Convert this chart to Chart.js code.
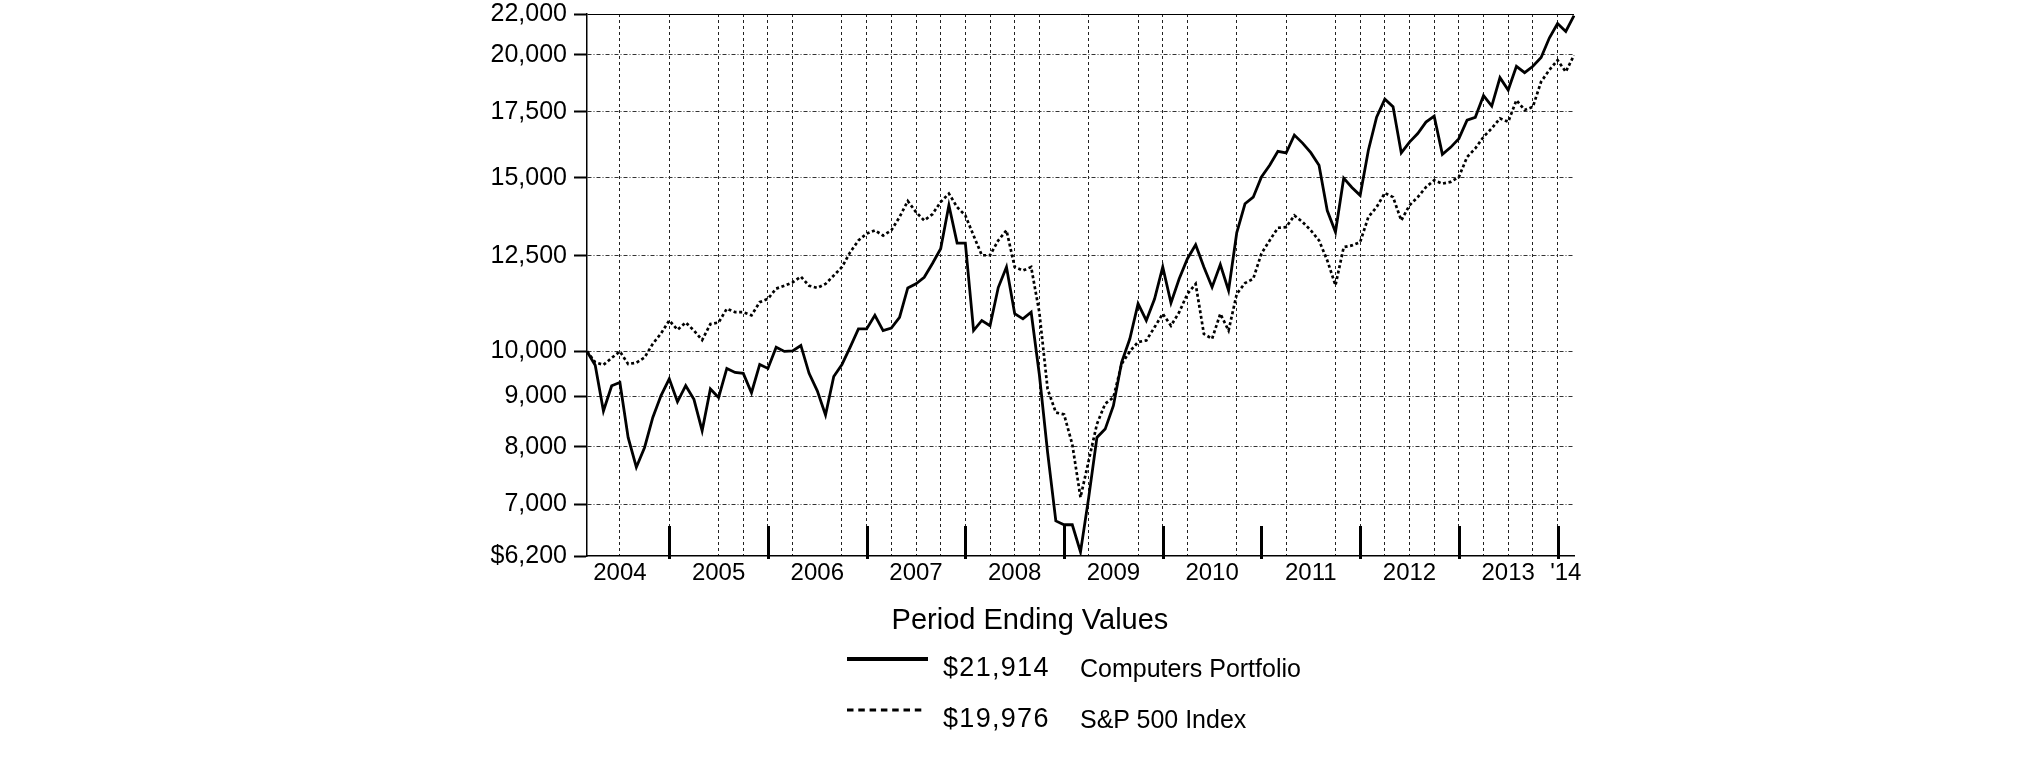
<!DOCTYPE html>
<html>
<head>
<meta charset="utf-8">
<title>Computers Portfolio vs S&amp;P 500 Index</title>
<script src="https://cdn.jsdelivr.net/npm/chart.js@4.4.1/dist/chart.umd.min.js"></script>
<style>
  html, body { margin: 0; padding: 0; background: #fff; }
  #wrap { position: relative; width: 2025px; height: 761px; font-family: "Liberation Sans", Arial, sans-serif; color: #000; }
  #growth { position: absolute; left: 0; top: 0; }
  .lg { position: absolute; white-space: nowrap; line-height: 1; }
</style>
</head>
<body>
<div id="wrap">
  <canvas id="growth" width="2025" height="761"></canvas>
  <svg style="position:absolute;left:0;top:0" width="2025" height="761">
    <line x1="847" y1="659" x2="928" y2="659" stroke="#000" stroke-width="4"/>
    <line x1="847" y1="710" x2="922" y2="710" stroke="#000" stroke-width="3" stroke-dasharray="6.5,4.8"/>
  </svg>
  <div class="lg" style="left:830px;width:400px;text-align:center;top:605px;font-size:29px;">Period Ending Values</div>
  <div class="lg" id="val0" style="left:943px;top:654px;font-size:27px;letter-spacing:1.3px;"></div>
  <div class="lg" id="name0" style="left:1080px;top:656px;font-size:25px;"></div>
  <div class="lg" id="val1" style="left:943px;top:705px;font-size:27px;letter-spacing:1.3px;"></div>
  <div class="lg" id="name1" style="left:1080px;top:707px;font-size:25px;"></div>
</div>
<script>
"use strict";
// 月末の値 (2004年2月 = 10,000)
var seriesNames = ["Computers Portfolio", "S&P 500 Index"];

var computers = [
  10000, 9680, 8700, 9230, 9300, 8180, 7630, 7990, 8570, 9020, 9380,
  8890, 9230, 8940, 8310, 9160, 8980, 9610, 9520, 9500, 9080, 9700, 9610,
  10100, 10000, 10010, 10140, 9500, 9120, 8620, 9430, 9700, 10100, 10540, 10540,
  10880, 10500, 10560, 10830, 11600, 11710, 11890, 12280, 12710, 14070, 12880, 12880,
  10500, 10750, 10620, 11610, 12180, 10920, 10790, 10960, 9470, 7900, 6730, 6670,
  6670, 6260, 7110, 8180, 8340, 8810, 9750, 10300, 11180, 10750, 11300, 12180,
  11200, 11850, 12420, 12830, 12180, 11620, 12250, 11530, 13200, 14120, 14340, 15030,
  15450, 15960, 15900, 16580, 16270, 15910, 15450, 13900, 13220, 14990, 14670, 14400,
  16000, 17290, 18030, 17710, 15900, 16310, 16640, 17090, 17330, 15850, 16110, 16440,
  17170, 17280, 18180, 17740, 18960, 18420, 19470, 19180, 19470, 19870, 20800, 21520,
  21120, 21914
];

var sp500 = [
  10000, 9750, 9690, 9850, 10000, 9710, 9740, 9860, 10180, 10430, 10750,
  10520, 10700, 10500, 10270, 10660, 10700, 11050, 10960, 10960, 10880, 11220, 11310,
  11580, 11660, 11750, 11910, 11660, 11600, 11710, 11940, 12180, 12610, 12960, 13170,
  13270, 13110, 13270, 13690, 14210, 13850, 13580, 13780, 14180, 14460, 14010, 13740,
  13110, 12520, 12520, 12960, 13270, 12180, 12080, 12180, 10950, 9160, 8670, 8630,
  8050, 7110, 7750, 8440, 8850, 8980, 9710, 10000, 10220, 10260, 10580, 10920,
  10620, 10960, 11440, 11710, 10420, 10300, 10920, 10500, 11440, 11730, 11850, 12570,
  12960, 13350, 13370, 13740, 13530, 13270, 12960, 12370, 11670, 12760, 12810, 12910,
  13690, 14010, 14480, 14340, 13580, 14070, 14340, 14680, 14920, 14800, 14860, 15030,
  15750, 16070, 16510, 16840, 17240, 17100, 17990, 17580, 17710, 18780, 19300, 19750,
  19220, 19976
];

// 縦軸の目盛り
var yTickValues = [6200, 7000, 8000, 9000, 10000, 12500, 15000, 17500, 20000, 22000];

// 横軸: 年ラベルの位置 (月番号), 縦の点線グリッド, 年末の太い目盛り
var yearLabels = ["2004", "2005", "2006", "2007", "2008", "2009", "2010", "2011", "2012", "2013", "'14"];
var yearLabelMonths = [4, 16, 28, 40, 52, 64, 76, 88, 100, 112, 119];
var gridMonths = [4, 10, 16, 19, 22, 25, 31, 34, 37, 40, 43, 46, 49, 52, 55, 61, 67, 70, 73, 79,
  85, 91, 94, 97, 100, 103, 106, 109, 112, 115, 118];
var yearEndMonths = [10, 22, 34, 46, 58, 70, 82, 94, 106, 118];

var monthNames = ["Jan", "Feb", "Mar", "Apr", "May", "Jun", "Jul", "Aug", "Sep", "Oct", "Nov", "Dec"];
var months = [];
for (var k = 0; k < computers.length; k++) {
  months.push(monthNames[(1 + k) % 12] + " " + (2004 + Math.floor((1 + k) / 12)));
}

// 凡例
function money(v) { return "$" + v.toLocaleString("en-US"); }
document.getElementById("val0").textContent = money(computers[computers.length - 1]);
document.getElementById("val1").textContent = money(sp500[sp500.length - 1]);
document.getElementById("name0").textContent = seriesNames[0];
document.getElementById("name1").textContent = seriesNames[1];

// 年末の太い目盛り
var yearEndTicks = {
  id: "yearEndTicks",
  afterDraw: function (chart) {
    var ctx = chart.ctx, area = chart.chartArea, x = chart.scales.x;
    ctx.save();
    ctx.strokeStyle = "#000";
    ctx.lineWidth = 3;
    ctx.beginPath();
    yearEndMonths.forEach(function (i) {
      var px = Math.round(x.getPixelForValue(i)) + 0.5;
      ctx.moveTo(px, area.bottom + 3);
      ctx.lineTo(px, area.bottom - 30);
    });
    ctx.stroke();
    ctx.restore();
  }
};

Chart.defaults.font.family = '"Liberation Sans", Arial, sans-serif';
Chart.defaults.color = "#000";

var ctx = document.getElementById("growth");
var growthChart = new Chart(ctx, {
  type: "line",
  data: {
    labels: months,
    datasets: [{
      label: seriesNames[0],
      data: computers,
      borderColor: "#000",
      borderWidth: 2.8,
      pointRadius: 0,
      tension: 0
    }, {
      label: seriesNames[1],
      data: sp500,
      borderColor: "#000",
      borderWidth: 2.7,
      borderDash: [3, 2.6],
      pointRadius: 0,
      tension: 0
    }]
  },
  options: {
    responsive: false,
    animation: false,
    devicePixelRatio: 1,
    layout: { padding: { left: 0, top: 14, right: 451, bottom: 145 } },
    plugins: { legend: { display: false }, tooltip: { enabled: false } },
    scales: {
      x: {
        type: "category",
        afterFit: function (s) { s.height = 60; s.paddingLeft = 0; s.paddingRight = 0; },
        ticks: {
          autoSkip: false, maxRotation: 0, minRotation: 0, padding: 3,
          font: { size: 24 }, color: "#000",
          callback: function (v, i) {
            var n = yearLabelMonths.indexOf(i);
            return n >= 0 ? yearLabels[n] : "";
          }
        },
        grid: {
          color: function (c) { return gridMonths.indexOf(c.index) >= 0 ? "#222" : "rgba(0,0,0,0)"; },
          lineWidth: 1,
          drawTicks: false
        },
        border: { display: true, color: "#000", width: 1.5, dash: [3, 3] }
      },
      y: {
        type: "logarithmic",
        min: 6200,
        max: 22000,
        afterBuildTicks: function (s) { s.ticks = yTickValues.map(function (v) { return { value: v }; }); },
        afterFit: function (s) { s.width = 587; s.paddingTop = 0; s.paddingBottom = 0; },
        ticks: {
          autoSkip: false, padding: 7, font: { size: 25 }, color: "#000",
          callback: function (v) { return (v === 6200 ? "$" : "") + v.toLocaleString("en-US"); }
        },
        grid: {
          color: function (c) {
            if (!c.tick) return "#333";
            if (c.tick.value === 22000) return "#000";
            if (c.tick.value === 6200) return "rgba(0,0,0,0)";
            return "#333";
          },
          lineWidth: 1,
          tickLength: 13,
          tickWidth: 2,
          tickColor: "#000"
        },
        border: {
          display: true, color: "#000", width: 1.5,
          dash: function (c) { return (c.tick && c.tick.value === 22000) ? [] : [4, 2, 1, 2]; }
        }
      }
    }
  },
  plugins: [yearEndTicks]
});
</script>
</body>
</html>
